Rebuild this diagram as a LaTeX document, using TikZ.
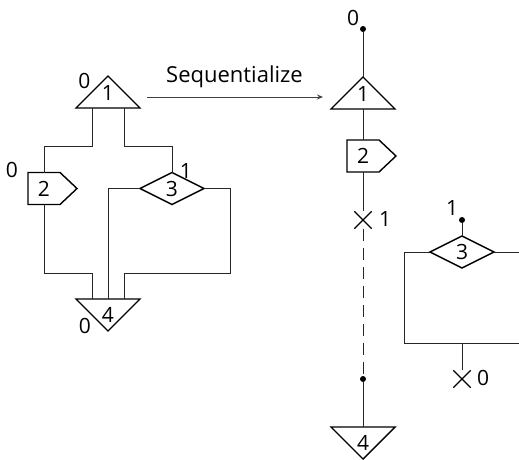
\documentclass[tikz,border=0pt]{standalone}
\usepackage{fontspec}
\setmainfont{Open Sans}
\usetikzlibrary{shapes.misc,arrows.meta}

\tikzset{
  outline/.style={draw=black, line width=1.4pt, line join=miter, fill=white},
  wire/.style={draw=black!85, line width=1pt},
  num/.style={inner sep=0pt, font=\fontsize{21}{21}\selectfont},
  dotnode/.style={circle, fill=black, inner sep=0pt, minimum size=6pt},
  crossnode/.style={cross out, draw=black, line width=1.3pt, inner sep=0pt, minimum size=16pt},
  % triangle with its apex on top
  uptri/.pic={
    \path[outline] (0,0) -- (32,32) -- (-32,32) -- cycle;
    \node[num] (-n) at (0,17) {#1};
    \coordinate (-top) at (0,0);
    \coordinate (-bot) at (0,32);
    \coordinate (-bl) at (-16,32);
    \coordinate (-br) at (16,32);
  },
  % triangle with its apex at the bottom
  downtri/.pic={
    \path[outline] (-32,0) -- (32,0) -- (0,32) -- cycle;
    \node[num] (-n) at (0,16) {#1};
    \coordinate (-top) at (0,0);
    \coordinate (-tl) at (-16,0);
    \coordinate (-tr) at (16,0);
  },
  % pentagon pointing right
  pent/.pic={
    \path[outline] (-16,-16) -- (16,-16) -- (33,0) -- (16,16) -- (-16,16) -- cycle;
    \node[num] (-n) at (0,0) {#1};
    \coordinate (-top) at (0,-16);
    \coordinate (-bot) at (0,16);
  },
  % flat diamond
  flatdia/.pic={
    \path[outline] (-32,0) -- (0,-16) -- (32,0) -- (0,16) -- cycle;
    \node[num] (-n) at (0,0) {#1};
    \coordinate (-top) at (0,-16);
    \coordinate (-left) at (-32,0);
    \coordinate (-right) at (32,0);
  }
}

\begin{document}
\begin{tikzpicture}[x=1pt, y=-1pt]
\useasboundingbox (0,0) rectangle (519,460);

% ---- parallel version ----
\pic (L1) at (108,76) {uptri=1};
\pic (L2) at (44,188.5) {pent=2};
\pic (L3) at (172,188.5) {flatdia=3};
\pic (L4) at (108,299) {downtri=4};

\coordinate (s1) at (0,146);
\coordinate (m1) at (230,273);

\draw[wire] (L1-bl) -- (L1-bl |- s1) -- (L2-top |- s1) -- (L2-top);
\draw[wire] (L1-br) -- (L1-br |- s1) -- (L3-top |- s1) -- (L3-top);
\draw[wire] (L3-left) -| (L4-top);
\draw[wire] (L3-right) -| (m1) -| (L4-tr);
\draw[wire] (L2-bot) |- (L4-tl |- m1) -- (L4-tl);

\node[num] (lab1) at (84.5,81) {0};
\node[num] (lab2) at (12,170) {0};
\node[num] (lab3) at (186,171) {1};
\node[num] (lab4) at (85,326) {0};

% ---- transformation arrow ----
\coordinate (a1) at (147,97);
\coordinate (a2) at (323,97);
\draw[draw=black!75, line width=1pt, -{Stealth[length=6pt,width=5pt]}] (a1) -- (a2);
\node[inner sep=0pt, anchor=base, font=\fontsize{22}{22}\selectfont] (seq) at (234.5,82) {Sequentialize};

% ---- sequential version ----
\node[dotnode] (d0) at (363,29) {};
\pic (R1) at (363,77) {uptri=1};
\pic (R2) at (363,156) {pent=2};
\node[crossnode] (x1) at (363,220) {};
\node[dotnode] (d1) at (363,379) {};
\pic (R4) at (363,427) {downtri=4};

\draw[wire] (d0) -- (R1-top);
\draw[wire] (R1-bot) -- (R2-top);
\draw[wire] (R2-bot) -- (x1);
\draw[wire, dash pattern=on 12pt off 7pt] (x1) -- (d1);
\draw[wire] (d1) -- (R4-top);

\node[num] (lab5) at (353,17.5) {0};
\node[num] (lab6) at (385,219) {1};

% detached branch
\node[dotnode] (d2) at (462,220) {};
\pic (R3) at (462,252) {flatdia=3};
\coordinate (c1) at (404,343);
\coordinate (j1) at (462,343);
\coordinate (e1) at (519,252);
\coordinate (e2) at (519,343);
\node[crossnode] (x2) at (462,379) {};

\draw[wire] (d2) -- (R3-top);
\draw[wire] (R3-left) -| (c1) -- (e2);
\draw[wire] (R3-right) -- (e1);
\draw[wire] (j1) -- (x2);

\node[num] (lab7) at (452,208) {1};
\node[num] (lab8) at (483,378) {0};
\end{tikzpicture}
\end{document}
